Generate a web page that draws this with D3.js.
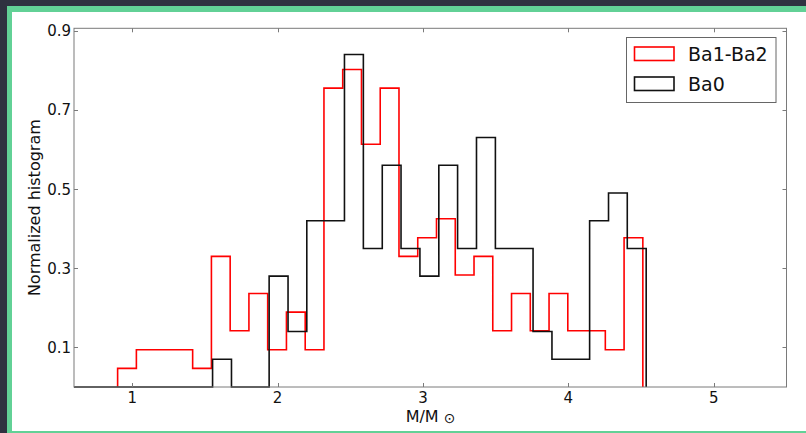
<!DOCTYPE html>
<html>
<head>
<meta charset="utf-8">
<script src="https://cdn.jsdelivr.net/npm/d3@7"></script>
<style>
  html, body { margin: 0; padding: 0; background: #2f3240; }
  svg { display: block; font-family: "DejaVu Sans", sans-serif; }
</style>
</head>
<body>
<div id="chart"></div>
<script>
// Ba1-Ba2（赤）と Ba0（黒）の正規化ヒストグラム。ビン端と高さは画像から読み取り。
var RED_EDGES = [0.900, 1.029, 1.158, 1.287, 1.416, 1.545, 1.674, 1.803, 1.932, 2.061,
                 2.190, 2.319, 2.448, 2.577, 2.706, 2.835, 2.964, 3.093, 3.222, 3.351,
                 3.480, 3.609, 3.738, 3.867, 3.996, 4.125, 4.254, 4.383, 4.512];
var RED_VALUES = [0.047, 0.094, 0.094, 0.094, 0.047, 0.330, 0.142, 0.236, 0.094, 0.189,
                  0.094, 0.755, 0.802, 0.613, 0.755, 0.330, 0.377, 0.425, 0.283, 0.330,
                  0.142, 0.236, 0.142, 0.236, 0.142, 0.142, 0.094, 0.377];
var BLACK_EDGES = [0.500, 1.553, 1.683, 1.812, 1.942, 2.072, 2.201, 2.331, 2.460, 2.590,
                   2.720, 2.849, 2.979, 3.109, 3.238, 3.368, 3.498, 3.627, 3.757, 3.887,
                   4.016, 4.146, 4.276, 4.405, 4.535];
var BLACK_VALUES = [0, 0.07, 0, 0, 0.28, 0.14, 0.42, 0.42, 0.84, 0.35, 0.56, 0.35, 0.28,
                    0.56, 0.35, 0.63, 0.35, 0.35, 0.14, 0.07, 0.07, 0.42, 0.49, 0.35];
var X_TICKS = [1, 2, 3, 4, 5];
var Y_TICKS = [0.1, 0.3, 0.5, 0.7, 0.9];
var SERIES = [['Ba1-Ba2', RED_EDGES, RED_VALUES, '#ff0000'],
              ['Ba0', BLACK_EDGES, BLACK_VALUES, '#111111']];

var W = 806, H = 433;
var ml = 74, mr = 19.5, mt = 28.3, mb = 46;
var pw = W - ml - mr, ph = H - mt - mb;

var svg = d3.select('#chart').append('svg').attr('width', W).attr('height', H);

// 外枠（暗色＋緑の縁）
svg.append('rect').attr('width', W).attr('height', H).attr('fill', '#2f3240');
svg.append('rect').attr('x', 7).attr('y', 6).attr('width', W - 7).attr('height', H - 6)
    .attr('fill', '#62d196');
svg.append('rect').attr('x', 12).attr('y', 12).attr('width', W - 12).attr('height', 419)
    .attr('fill', '#ffffff');

var x = d3.scaleLinear().domain([0.6, 5.5]).range([ml, ml + pw]);
var y = d3.scaleLinear().domain([0, 0.906]).range([mt + ph, mt]);

svg.append('clipPath').attr('id', 'plotclip').append('rect')
    .attr('x', ml).attr('y', mt - 2).attr('width', pw).attr('height', ph + 4);

// ステップ状の輪郭
function stepPoints(edges, vals) {
    var pts = [[edges[0], 0]];
    vals.forEach(function (v, i) {
        pts.push([edges[i], v]);
        pts.push([edges[i + 1], v]);
    });
    pts.push([edges[edges.length - 1], 0]);
    return pts;
}
var line = d3.line().x(function (d) { return x(d[0]); }).y(function (d) { return y(d[1]); });

var g = svg.append('g').attr('clip-path', 'url(#plotclip)');
SERIES.forEach(function (s) {
    g.append('path').datum(stepPoints(s[1], s[2]))
        .attr('d', line).attr('fill', 'none')
        .attr('stroke', s[3]).attr('stroke-width', 1.6)
        .attr('stroke-linejoin', 'miter');
});

// 枠と内向き目盛り
var frame = '#7a7a7a';
svg.append('rect').attr('x', ml).attr('y', mt).attr('width', pw).attr('height', ph)
    .attr('fill', 'none').attr('stroke', frame).attr('stroke-width', 1);
X_TICKS.forEach(function (t) {
    var px = Math.round(x(t)) + 0.5;
    svg.append('line').attr('x1', px).attr('x2', px).attr('y1', mt + ph).attr('y2', mt + ph - 4)
        .attr('stroke', frame);
    svg.append('line').attr('x1', px).attr('x2', px).attr('y1', mt).attr('y2', mt + 4)
        .attr('stroke', frame);
    svg.append('text').attr('x', x(t)).attr('y', 402.5)
        .attr('text-anchor', 'middle').attr('font-size', 15).attr('fill', '#111')
        .text(t);
});
Y_TICKS.forEach(function (t) {
    var py = Math.round(y(t)) + 0.5;
    svg.append('line').attr('x1', ml).attr('x2', ml + 4).attr('y1', py).attr('y2', py)
        .attr('stroke', frame);
    svg.append('line').attr('x1', ml + pw).attr('x2', ml + pw - 4).attr('y1', py).attr('y2', py)
        .attr('stroke', frame);
    svg.append('text').attr('x', 71).attr('y', y(t) + 5.5)
        .attr('text-anchor', 'end').attr('font-size', 15).attr('fill', '#111')
        .text(d3.format('.1f')(t));
});

// 軸ラベル
svg.append('text').attr('transform', 'translate(40,' + (mt + ph / 2) + ') rotate(-90)')
    .attr('text-anchor', 'middle').attr('font-size', 16).attr('fill', '#111')
    .text('Normalized histogram');
var xl = svg.append('text').attr('x', 430.5).attr('y', 421.7)
    .attr('text-anchor', 'middle').attr('font-size', 16).attr('fill', '#111');
xl.append('tspan').text('M/M');
xl.append('tspan').attr('font-size', 14).attr('dx', 5).attr('dy', 1).text('\u2299');

// 凡例
var lg = svg.append('g');
lg.append('rect').attr('x', 626.5).attr('y', 37.5).attr('width', 149.5).attr('height', 65)
    .attr('fill', '#fff').attr('stroke', '#666').attr('stroke-width', 1);
SERIES.forEach(function (s, i) {
    var yy = 47 + i * 30;
    lg.append('rect').attr('x', 634.5).attr('y', yy).attr('width', 39.5).attr('height', 13.5)
        .attr('fill', 'none').attr('stroke', s[3]).attr('stroke-width', 1.6);
    lg.append('text').attr('x', 688).attr('y', yy + 13.5)
        .attr('font-size', 19).attr('fill', '#111').text(s[0]);
});
</script>
</body>
</html>
